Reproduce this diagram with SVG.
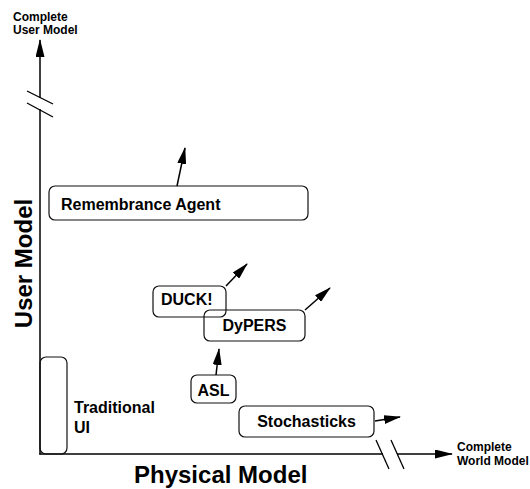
<svg xmlns="http://www.w3.org/2000/svg" width="530" height="489" viewBox="0 0 530 489">
<style>
  text { font-family: "Liberation Sans", Arial, sans-serif; font-weight: bold; fill: #000; }
  .lbl { font-size: 16px; }
  .small { font-size: 12px; }
  .big { font-size: 24px; }
  .box { fill: none; stroke: #111; stroke-width: 1.2; }
  .axis { stroke: #000; stroke-width: 1.5; fill: none; }
  .arr { stroke: #000; stroke-width: 1.5; fill: none; marker-end: url(#head); }
  .brk { stroke: #000; stroke-width: 1.3; }
</style>
<defs>
  <marker id="head" viewBox="0 0 17 9" refX="16" refY="4.5" markerWidth="17" markerHeight="9" markerUnits="userSpaceOnUse" orient="auto">
    <path d="M0,0 L17,4.5 L0,9 z" fill="#000"/>
  </marker>
  <marker id="axhead" viewBox="0 0 18 9" refX="17" refY="4.5" markerWidth="18" markerHeight="9" markerUnits="userSpaceOnUse" orient="auto">
    <path d="M0,0 L18,4.5 L0,9 z" fill="#000"/>
  </marker>
</defs>

<g id="axes">
  <line class="axis" x1="40" y1="98" x2="40" y2="40" marker-end="url(#axhead)"/>
  <line class="axis" x1="40" y1="109" x2="40" y2="454.5"/>
  <line class="brk" x1="27" y1="91" x2="53" y2="104"/>
  <line class="brk" x1="27" y1="103" x2="53" y2="117"/>
  <line class="axis" x1="39.3" y1="454" x2="383" y2="454"/>
  <line class="axis" x1="397" y1="454" x2="452" y2="454" marker-end="url(#axhead)"/>
  <line class="brk" x1="376" y1="440" x2="389" y2="469"/>
  <line class="brk" x1="391" y1="440" x2="404" y2="469"/>
  <text class="small" x="13" y="21">Complete</text>
  <text class="small" x="13" y="34">User Model</text>
  <text class="small" x="457" y="451">Complete</text>
  <text class="small" x="457" y="465">World Model</text>
  <text class="big" x="134" y="483">Physical Model</text>
  <text class="big" transform="translate(32,263.5) rotate(-90)" text-anchor="middle">User Model</text>
</g>

<g id="remembrance">
  <rect class="box" x="49" y="186" width="259" height="34" rx="6"/>
  <text class="lbl" x="61" y="210">Remembrance Agent</text>
</g>
<g id="duck">
  <rect class="box" x="153" y="286" width="73" height="31" rx="6"/>
  <text class="lbl" x="161" y="305">DUCK!</text>
</g>
<g id="dypers">
  <rect class="box" x="204" y="310" width="101" height="31" rx="6"/>
  <text class="lbl" x="254.5" y="331" text-anchor="middle">DyPERS</text>
</g>
<g id="asl">
  <rect class="box" x="191" y="375" width="45" height="28" rx="6"/>
  <text class="lbl" x="213.5" y="396" text-anchor="middle">ASL</text>
</g>
<g id="stochasticks">
  <rect class="box" x="239" y="406" width="135" height="31" rx="6"/>
  <text class="lbl" x="306.5" y="427" text-anchor="middle">Stochasticks</text>
</g>
<g id="traditional">
  <rect class="box" x="40" y="357" width="27" height="97" rx="6"/>
  <text class="lbl" x="74" y="413">Traditional</text>
  <text class="lbl" x="74" y="433">UI</text>
</g>

<g id="connectors">
  <line class="arr" x1="177" y1="186" x2="185" y2="148"/>
  <line class="arr" x1="226" y1="286" x2="247" y2="264"/>
  <line class="arr" x1="305" y1="310" x2="330" y2="288"/>
  <line class="arr" x1="216" y1="375" x2="219" y2="349"/>
  <line class="arr" x1="375" y1="421" x2="400" y2="417"/>
</g>
</svg>
